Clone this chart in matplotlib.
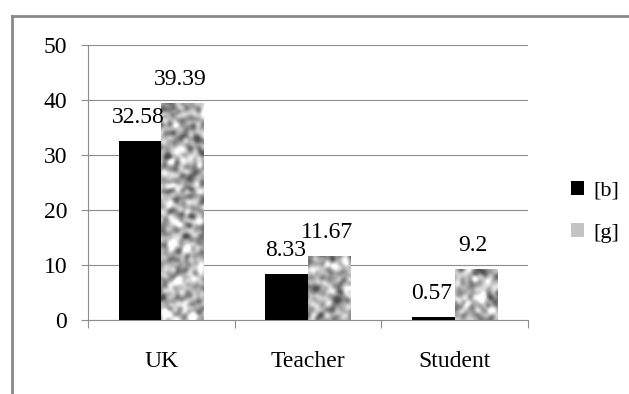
import numpy as np
import matplotlib
matplotlib.use("Agg")
import matplotlib.pyplot as plt
from matplotlib.lines import Line2D
from matplotlib.patches import Patch

# data
categories = ["UK", "Teacher", "Student"]
b_values = [32.58, 8.33, 0.57]
g_values = [39.39, 11.67, 9.2]
b_labels = ["32.58", "8.33", "0.57"]
g_labels = ["39.39", "11.67", "9.2"]
series_names = ["[b]", "[g]"]
y_ticks = [0, 10, 20, 30, 40, 50]

plt.rcParams["font.family"] = ["Liberation Serif", "DejaVu Serif"]

W, H = 629, 394
fig = plt.figure(figsize=(W / 100, H / 100), dpi=100)
ax = fig.add_axes([88 / W, 1 - 320 / H, 440 / W, 275 / H])

grid_col = "#8c8c8c"
x = np.arange(len(categories))
bw = 0.29

ax.bar(x - bw / 2, b_values, bw, color="black", zorder=3)
g_bars = ax.bar(x + bw / 2, g_values, bw, color="#b8b8b8", zorder=3)

# speckled texture for the grey bars
rng = np.random.default_rng(11)
noise = rng.normal(size=(150, 240))
k = np.array([1, 3, 4, 3, 1], float)
k /= k.sum()
for axis in (0, 1):
    noise = np.apply_along_axis(lambda r: np.convolve(r, k, mode="same"), axis, noise)
noise = (noise - noise.mean()) / noise.std()
noise = np.clip(noise, -2.5, 2.5)
for bar in g_bars:
    im = ax.imshow(noise, cmap="gray", vmin=-4.6, vmax=2.1,
                   extent=(-0.5, 2.5, 0, 50), aspect="auto",
                   interpolation="bilinear", zorder=4)
    im.set_clip_path(bar)

# value labels
for xi, v, s in zip(x, b_values, b_labels):
    ax.annotate(s, (xi - bw / 2, v), xytext=(-1, 13), textcoords="offset points",
                ha="center", va="baseline", fontsize=17, zorder=5)
for xi, v, s in zip(x, g_values, g_labels):
    ax.annotate(s, (xi + bw / 2, v), xytext=(-2, 13), textcoords="offset points",
                ha="center", va="baseline", fontsize=17, zorder=5)

ax.set_xlim(-0.5, 2.5)
ax.set_ylim(0, 50)
ax.set_yticks(y_ticks)
ax.set_xticks(x)
ax.set_xticklabels(categories)
ax.set_xticks([-0.5, 0.5, 1.5, 2.5], minor=True)
ax.tick_params(axis="x", which="major", length=0, pad=22, labelsize=17)
ax.tick_params(axis="x", which="minor", length=6, width=0.8, color=grid_col)
ax.tick_params(axis="y", length=5, width=0.8, color=grid_col, pad=10, labelsize=17)
ax.yaxis.grid(True, color=grid_col, linewidth=0.8, zorder=0)
ax.set_axisbelow(True)
for side in ("top", "right"):
    ax.spines[side].set_visible(False)
for side in ("left", "bottom"):
    ax.spines[side].set_color(grid_col)
    ax.spines[side].set_linewidth(0.8)

handles = [Patch(facecolor="black"), Patch(facecolor="#c4c4c4")]
fig.legend(handles, series_names, loc="center left",
           bbox_to_anchor=(560 / W, 1 - 212 / H), frameon=False, fontsize=16,
           handlelength=0.6, handleheight=0.6, handletextpad=0.4,
           labelspacing=1.0, borderpad=0)

# outer frame (left and top edges visible)
fx, fy = 11.5 / W, 1 - 16 / H
fig.add_artist(Line2D([fx, fx], [0, fy], color="#8a8a8a", lw=2))
fig.add_artist(Line2D([fx, 1], [fy, fy], color="#8a8a8a", lw=2))

fig.savefig("out.png", dpi=100)
